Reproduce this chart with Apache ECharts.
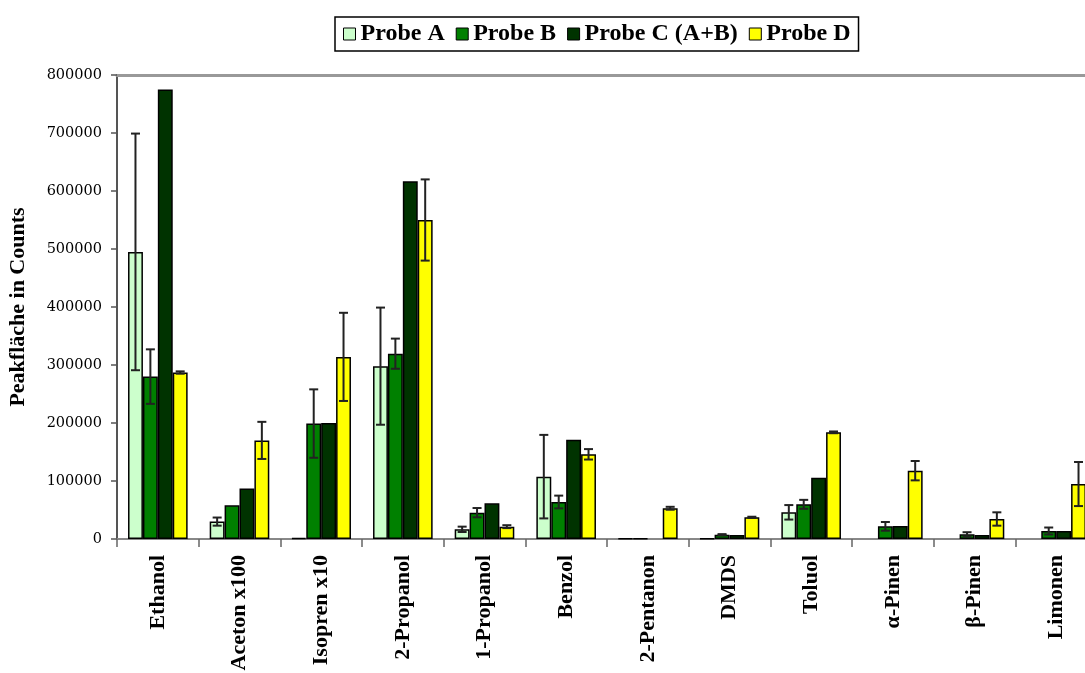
<!DOCTYPE html>
<html>
<head>
<meta charset="utf-8">
<script src="https://cdn.jsdelivr.net/npm/echarts@6/dist/echarts.min.js"></script>
<style>
  html, body { margin: 0; padding: 0; background: #fff; }
  #chart { width: 1085px; height: 673px; }
</style>
</head>
<body>
<div id="chart"></div>
<script>
// Substanzen und Peakflächen (Counts)
const categories = ['Ethanol', 'Aceton x100', 'Isopren x10', '2-Propanol', '1-Propanol', 'Benzol',
  '2-Pentanon', 'DMDS', 'Toluol', 'α-Pinen', 'β-Pinen', 'Limonen'];
const probeNames = ['Probe A', 'Probe B', 'Probe C (A+B)', 'Probe D'];

const probeA = [495000, 30000, 2000, 298000, 16700, 107500, 1000, 1000, 46000, 0, 0, 0];
const probeB = [280000, 58000, 199000, 319500, 45400, 63800, 1000, 7400, 59800, 21800, 8000, 13800];
const probeC = [775000, 87000, 200000, 617000, 61500, 171300, 0, 7000, 105700, 22400, 7000, 13800];
const probeD = [287000, 170000, 314000, 550000, 21300, 146000, 53000, 37400, 183900, 117800, 34500, 94800];

// Standardabweichungen (Fehlerbalken)
const errA = [204000, 7000, 0, 101000, 4600, 72000, 0, 0, 12500, 0, 0, 0];
const errB = [47000, 0, 59000, 26000, 8000, 11000, 0, 1000, 7700, 7500, 3700, 6000];
const errC = [0, 0, 0, 0, 0, 0, 0, 0, 0, 0, 0, 0];
const errD = [2000, 32000, 76000, 70000, 2500, 9000, 2500, 1000, 1500, 16700, 11500, 38000];

const yTicks = [0, 100000, 200000, 300000, 400000, 500000, 600000, 700000, 800000];

const colors = ['#ccffcc', '#008000', '#003300', '#ffff00'];
const values = [probeA, probeB, probeC, probeD];
const errors = [errA, errB, errC, errD];

const GAP = 0.27;
const N = 4;

var myChart = echarts.init(document.getElementById('chart'));

const barSeries = values.map((vals, i) => ({
  name: probeNames[i],
  type: 'bar',
  data: vals.map(v => v === 0 ? '-' : v),
  barGap: '0%',
  barCategoryGap: (GAP * 100) + '%',
  itemStyle: { color: colors[i], borderColor: '#000', borderWidth: 1.5 },
  emphasis: { disabled: true },
  z: 2
}));

const errSeries = errors.map((errs, i) => ({
  type: 'custom',
  name: 'err' + i,
  z: 5,
  silent: true,
  data: errs.map((e, k) => [k, values[i][k], e]).filter(d => d[2] > 0),
  renderItem: (params, api) => {
    const k = api.value(0), v = api.value(1), e = api.value(2);
    const band = api.size([1, 0])[0];
    const bw = band * (1 - GAP) / N;
    const center = api.coord([k, 0])[0];
    const x = center - (N * bw) / 2 + (i + 0.5) * bw;
    const yTop = api.coord([k, v + e])[1];
    const yBot = api.coord([k, Math.max(v - e, 0)])[1];
    const cap = 4.5;
    const style = { stroke: '#222', lineWidth: 2 };
    return {
      type: 'group',
      children: [
        { type: 'line', shape: { x1: x, y1: yTop, x2: x, y2: yBot }, style },
        { type: 'line', shape: { x1: x - cap, y1: yTop, x2: x + cap, y2: yTop }, style },
        { type: 'line', shape: { x1: x - cap, y1: yBot, x2: x + cap, y2: yBot }, style }
      ]
    };
  }
}));

myChart.setOption({
  animation: false,
  textStyle: { fontFamily: 'Liberation Serif' },
  legend: {
    data: probeNames,
    left: 335,
    top: 17,
    padding: [5, 8, 5, 8],
    icon: 'rect',
    itemWidth: 12,
    itemHeight: 12,
    itemGap: 11,
    borderColor: '#000',
    borderWidth: 1.5,
    borderRadius: 0,
    backgroundColor: '#fff',
    itemStyle: { borderColor: '#000', borderWidth: 1 },
    textStyle: { fontFamily: 'Liberation Serif', fontWeight: 'bold', fontSize: 24, color: '#000' }
  },
  grid: { left: 117, top: 75, width: 980, height: 464, containLabel: false, outerBoundsMode: 'none' },
  xAxis: [
    {
      type: 'category',
      data: categories,
      axisLine: { lineStyle: { color: '#888', width: 2 } },
      axisTick: { show: true, length: 8, lineStyle: { color: '#666', width: 1.5 } },
      axisLabel: {
        rotate: 90,
        margin: 16,
        interval: 0,
        fontFamily: 'Liberation Serif',
        fontWeight: 'bold',
        fontSize: 22,
        color: '#000'
      }
    },
    {
      type: 'category',
      data: categories,
      position: 'top',
      axisLine: { lineStyle: { color: '#999', width: 3 } },
      axisTick: { show: false },
      axisLabel: { show: false }
    }
  ],
  yAxis: {
    type: 'value',
    min: yTicks[0],
    max: yTicks[yTicks.length - 1],
    interval: yTicks[1] - yTicks[0],
    name: 'Peakfläche in Counts',
    nameLocation: 'middle',
    nameGap: 88,
    nameTextStyle: { fontFamily: 'Liberation Serif', fontWeight: 'bold', fontSize: 22, color: '#000' },
    axisLine: { show: true, lineStyle: { color: '#555', width: 2 } },
    axisTick: { show: true, length: 6, lineStyle: { color: '#555', width: 1.5 } },
    splitLine: { show: false },
    axisLabel: {
      fontFamily: 'DejaVu Serif', fontSize: 14.5, color: '#000', margin: 15,
      formatter: v => String(v)
    }
  },
  series: [...barSeries, ...errSeries]
});
</script>
</body>
</html>
